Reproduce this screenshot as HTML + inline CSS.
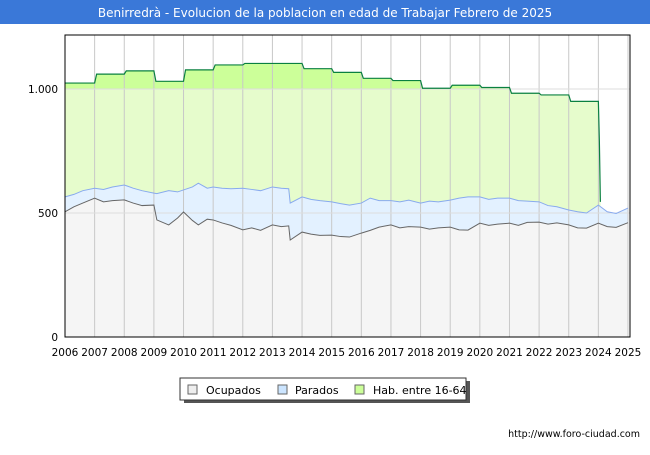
<!DOCTYPE html>
<html><head><meta charset="utf-8"><style>
body{margin:0;background:#fff;font-family:"Liberation Sans","DejaVu Sans",sans-serif}
</style></head><body>
<svg width="650" height="450" xmlns="http://www.w3.org/2000/svg" font-family="DejaVu Sans, Liberation Sans, sans-serif">
<rect x="0" y="0" width="650" height="450" fill="#fff"/>
<rect x="0" y="0" width="650" height="24" fill="#3a78d8"/>
<text x="325" y="17" text-anchor="middle" font-size="12" fill="#fff">Benirredrà - Evolucion de la poblacion en edad de Trabajar Febrero de 2025</text>
<g id="plot"></g>
<g id="axes"></g>
<g>
<rect x="184" y="381" width="286" height="22" fill="#555"/>
<rect x="180" y="378" width="286" height="22" fill="#fff" stroke="#333"/>
<rect x="188" y="385" width="9" height="9" fill="#eee" stroke="#666"/>
<text x="206" y="394" font-size="11" fill="#000">Ocupados</text>
<rect x="278" y="385" width="9" height="9" fill="#cce5ff" stroke="#666"/>
<text x="295" y="394" font-size="11" fill="#000">Parados</text>
<rect x="355" y="385" width="9" height="9" fill="#ccff99" stroke="#666"/>
<text x="373" y="394" font-size="11" fill="#000">Hab. entre 16-64</text>
</g>
<text x="640" y="437" text-anchor="end" font-size="9.5" fill="#000">http://www.foro-ciudad.com</text>
</svg>
<script>
const years=[2006,2007,2008,2009,2010,2011,2012,2013,2014,2015,2016,2017,2018,2019,2020,2021,2022,2023,2024,2025];
const yTicks=[0,500,1000];
const yTickLabels=["0","500","1.000"];
const habYears=[2006,2007,2008,2009,2010,2011,2012,2013,2014,2015,2016,2017,2018,2019,2020,2021,2022,2023];
const habValues=[1024,1060,1073,1031,1077,1097,1103,1103,1082,1067,1043,1034,1003,1015,1006,983,976,950];
const seriesT=[2006,2006.3,2006.6,2007,2007.3,2007.6,2008,2008.3,2008.6,2009,2009.1,2009.5,2009.8,2010,2010.3,2010.5,2010.8,2011,2011.3,2011.6,2012,2012.3,2012.6,2013,2013.3,2013.55,2013.6,2014,2014.3,2014.6,2015,2015.3,2015.6,2016,2016.3,2016.6,2017,2017.3,2017.6,2018,2018.3,2018.6,2019,2019.3,2019.6,2020,2020.3,2020.6,2021,2021.3,2021.6,2022,2022.3,2022.6,2023,2023.3,2023.6,2024,2024.3,2024.6,2025];
const ocupados=[505,525,540,560,545,550,553,540,530,532,472,452,480,504,470,452,475,472,460,450,432,440,430,452,445,448,391,423,415,410,411,405,403,419,430,443,452,440,445,443,435,440,443,432,431,459,450,455,459,450,462,463,455,460,452,440,439,459,445,442,461];
const parados=[565,575,590,600,595,605,613,600,590,580,578,590,585,593,605,620,600,605,600,598,600,595,590,605,600,598,540,565,555,550,545,538,532,540,560,550,550,545,552,540,548,545,552,560,565,565,555,560,560,550,548,545,530,525,512,505,500,532,505,498,520];
const X0=65,X1=628,Y0=337,YTOP=35;
function xs(t){return X0+(t-2006)*(X1-X0)/19;}
function ys(v){return Y0-v*(337-89)/1000;}
const NS="http://www.w3.org/2000/svg";
function mk(tag,attrs,parent){const e=document.createElementNS(NS,tag);for(const k in attrs)e.setAttribute(k,attrs[k]);parent.appendChild(e);return e;}
const plot=document.getElementById('plot'),axes=document.getElementById('axes');
let hp=[];
habYears.forEach((y,i)=>{const x0=xs(y)+(i?2:0),x1=xs(y+1);hp.push([x0,ys(habValues[i])],[x1,ys(habValues[i])]);});
const last=habYears[habYears.length-1]+1;
hp.push([xs(last)+1,ys(790)],[xs(last)+2,ys(parados[parados.length-10])]);
const endX=xs(last)+2;
const habD="M"+xs(2006)+","+Y0+" L"+hp.map(p=>p.join(",")).join(" L")+" L"+endX+","+Y0+" Z";
const dark=mk('path',{d:habD,fill:'#ccff99'},plot);

mk('clipPath',{id:'below1000'},plot);
mk('rect',{x:0,y:ys(1000),width:650,height:400},document.getElementById('below1000'));
const light=mk('path',{d:habD,fill:'#e6fccc','clip-path':'url(#below1000)'},plot);

const pts=(arr)=>seriesT.map((t,i)=>xs(t)+","+ys(arr[i])).join(" L");
const pa=mk('path',{d:"M"+xs(2006)+","+Y0+" L"+pts(parados)+" L"+xs(2025)+","+Y0+" Z",fill:'#e3f1ff'},plot);

const oa=mk('path',{d:"M"+xs(2006)+","+Y0+" L"+pts(ocupados)+" L"+xs(2025)+","+Y0+" Z",fill:'#f5f5f5'},plot);

years.forEach(y=>{const g=mk('line',{x1:xs(y),x2:xs(y),y1:YTOP,y2:Y0,stroke:'#c8c8c8'},plot);
});
yTicks.forEach(v=>{const g=mk('line',{x1:X0,x2:630,y1:ys(v),y2:ys(v),stroke:'#ddd'},plot);
});
const hl=mk('path',{d:"M"+hp.map(p=>p.join(",")).join(" L"),fill:'none',stroke:'#0a8040','stroke-width':1.2},plot);

const pl=mk('path',{d:"M"+pts(parados),fill:'none',stroke:'#88aaee','stroke-width':1},plot);

const ol=mk('path',{d:"M"+pts(ocupados),fill:'none',stroke:'#666','stroke-width':1},plot);

const fr=mk('rect',{x:X0,y:YTOP,width:630-X0,height:Y0-YTOP,fill:'none',stroke:'#000'},axes);

years.forEach(y=>{const t=mk('text',{x:xs(y),y:356,'text-anchor':'middle','font-size':10.5,fill:'#000'},axes);t.textContent=y;
});
yTicks.forEach((v,i)=>{const t=mk('text',{x:58,y:ys(v)+4,'text-anchor':'end','font-size':10.5,fill:'#000'},axes);t.textContent=yTickLabels[i];
});
</script>
</body></html>
